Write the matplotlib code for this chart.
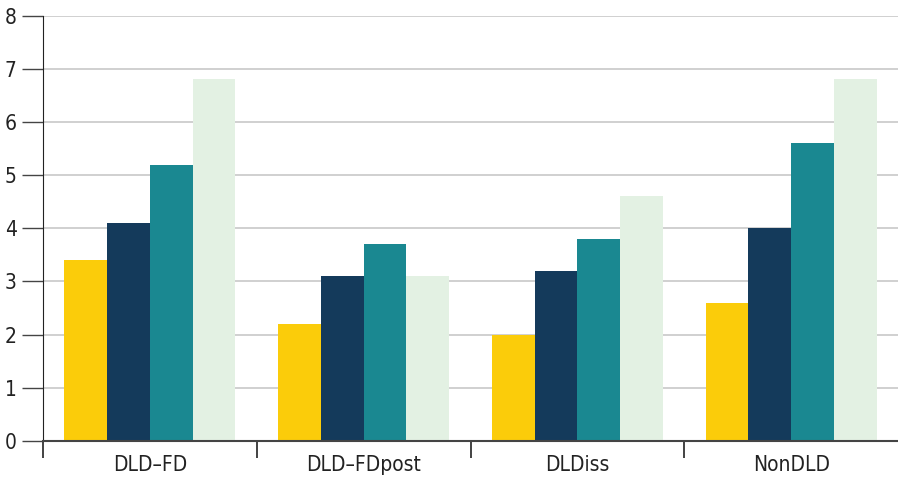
import numpy as np
import matplotlib.pyplot as plt
from matplotlib import font_manager

cond = [f.name for f in font_manager.fontManager.ttflist if 'ondensed' in f.fname or 'Narrow' in f.name]
print(sorted(set(cond)))
plt.rcParams['font.family'] = ['DejaVu Sans']
plt.rcParams['font.stretch'] = 'condensed'
plt.rcParams['font.size'] = 15

categories = ['DLD\u2013FD', 'DLD\u2013FDpost', 'DLDiss', 'NonDLD']
s1 = [3.4, 2.2, 2.0, 2.6]
s2 = [4.1, 3.1, 3.2, 4.0]
s3 = [5.2, 3.7, 3.8, 5.6]
s4 = [6.8, 3.1, 4.6, 6.8]
series = [s1, s2, s3, s4]
colors = ['#FBCC0A', '#143A5B', '#1A8891', '#E3F1E3']

fig = plt.figure(figsize=(8.98, 4.91), dpi=100)
ax = fig.add_axes([0.048, 0.102, 0.952, 0.866])

x = np.arange(len(categories))
w = 0.2
for i, (vals, c) in enumerate(zip(series, colors)):
    ax.bar(x + (i - 1.5) * w, vals, w, color=c, linewidth=0, zorder=3)

ax.set_xlim(-0.5, 3.5)
ax.set_ylim(0, 8)
ax.set_yticks(range(9))
ax.set_xticks(x)
ax.set_xticklabels(categories)
ax.set_xticks(np.arange(-0.5, 3.5, 1), minor=True)
ax.tick_params(axis='x', which='major', length=0, pad=10, labelcolor='#222222')
ax.tick_params(axis='x', which='minor', length=12, width=1.2, color='#222222')
ax.tick_params(axis='y', length=15, width=1, color='#444444', pad=4, labelcolor='#222222')

ax.grid(axis='y', color='#c8c8c8', linewidth=1.2, zorder=0)
for s in ['top', 'right']:
    ax.spines[s].set_visible(False)
ax.spines['left'].set_color('#222222')
ax.spines['bottom'].set_color('#444444')
ax.spines['bottom'].set_linewidth(1.5)
ax.spines['bottom'].set_zorder(4)
ax.spines['left'].set_zorder(4)

fig.savefig('out.png', dpi=100)
